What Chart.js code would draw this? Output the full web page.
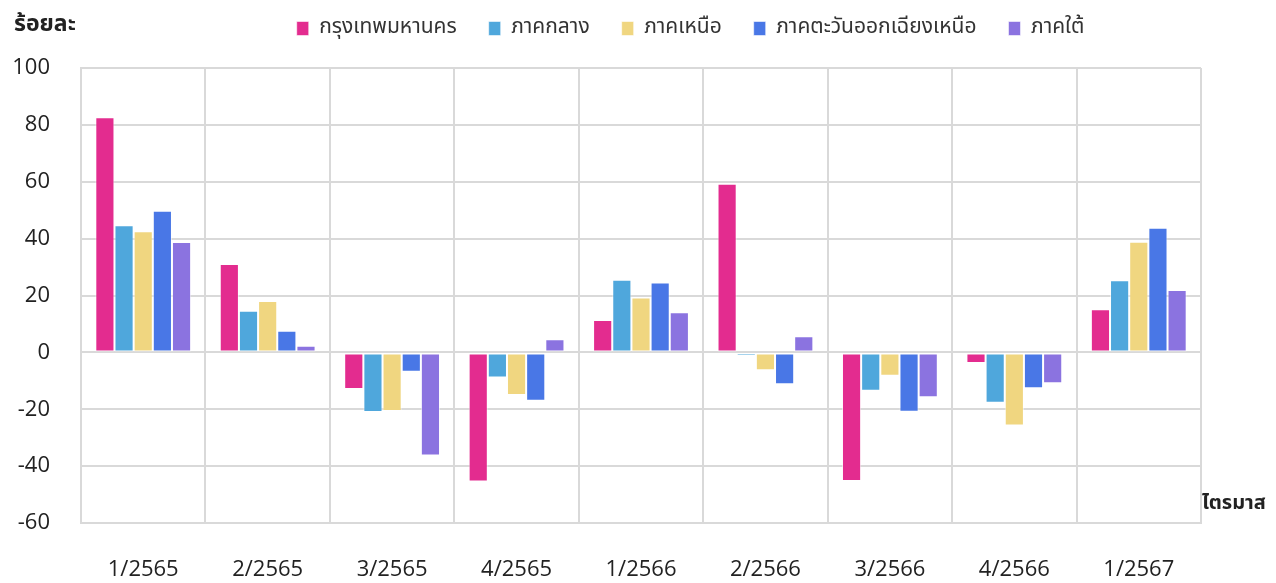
<!DOCTYPE html>
<html>
<head>
<meta charset="utf-8">
<script src="https://cdn.jsdelivr.net/npm/chart.js@4"></script>
<style>
  html, body { margin: 0; padding: 0; background: #fff; }
  #wrap { width: 1276px; height: 583px; }
</style>
</head>
<body>
<div id="wrap"><canvas id="regionChart"></canvas></div>
<script>
const quarters = ['1/2565', '2/2565', '3/2565', '4/2565', '1/2566', '2/2566', '3/2566', '4/2566', '1/2567'];

const bangkok   = [82.7, 31.1, -12.9, -45.4, 11.4, 59.3, -45.2, -3.7, 15.2];
const central   = [44.7, 14.6, -21.0, -8.8, 25.5, -1.3, -13.5, -17.7, 25.4];
const north     = [42.6, 18.1, -20.6, -15.0, 19.3, -6.3, -8.2, -25.7, 38.9];
const northeast = [49.8, 7.6, -6.8, -17.0, 24.6, -11.2, -20.9, -12.6, 43.8];
const south     = [38.8, 2.3, -36.3, 4.6, 14.1, 5.7, -15.8, -10.9, 21.9];

const yTicks = [100, 80, 60, 40, 20, 0, -20, -40, -60];

const thaiFont = "'Noto Sans Thai', 'Noto Sans', 'Open Sans', sans-serif";
const numFont = "'Open Sans', 'Noto Sans', sans-serif";
const gridColor = '#d9d9d9';

function series(label, data, color) {
    return {
        label: label,
        data: data,
        backgroundColor: color,
        borderColor: 'rgba(255,255,255,0.55)',
        borderWidth: 1,
        borderSkipped: false,
        categoryPercentage: 0.77,
        barPercentage: 1.0
    };
}

// axis captions: unit on the top left, period label beside the x axis
const captions = {
    id: 'captions',
    afterDraw(chart) {
        const ctx = chart.ctx;
        ctx.save();
        ctx.fillStyle = '#222';
        ctx.textBaseline = 'middle';
        ctx.textAlign = 'left';
        ctx.font = 'bold 23px ' + thaiFont;
        ctx.fillText('ร้อยละ', 14, 26);
        ctx.font = 'bold 20px ' + thaiFont;
        ctx.fillText('ไตรมาส', chart.chartArea.right + 1, 505);
        ctx.restore();
    }
};

// keep the legend block 68px tall, lift it and nudge it right of centre
const legendPlace = {
    id: 'legendPlace',
    afterInit(chart) {
        const legend = chart.legend;
        const fit = legend.fit.bind(legend);
        legend.fit = function () {
            fit();
            this.height = 68;
        };
    },
    afterLayout(chart) {
        const legend = chart.legend;
        legend.left += 90;
        legend.right += 90;
        legend.top -= 14;
        legend.bottom -= 14;
    }
};

new Chart(document.getElementById('regionChart'), {
    type: 'bar',
    data: {
        labels: quarters,
        datasets: [
            series('กรุงเทพมหานคร', bangkok, '#e32c8f'),
            series('ภาคกลาง', central, '#4fa7dc'),
            series('ภาคเหนือ', north, '#f0d680'),
            series('ภาคตะวันออกเฉียงเหนือ', northeast, '#4977e6'),
            series('ภาคใต้', south, '#8b73e0')
        ]
    },
    options: {
        responsive: true,
        maintainAspectRatio: false,
        animation: false,
        layout: { padding: { left: 0, right: 75, top: 0, bottom: 0 } },
        plugins: {
            legend: {
                position: 'top',
                labels: {
                    boxWidth: 12,
                    boxHeight: 14,
                    padding: 32,
                    color: '#333',
                    font: { family: thaiFont, size: 21 }
                }
            },
            tooltip: { enabled: false },
            title: { display: false }
        },
        scales: {
            x: {
                grid: { color: gridColor, lineWidth: 2, offset: true, drawTicks: false },
                border: { color: gridColor, width: 2 },
                ticks: {
                    color: '#222',
                    padding: 34,
                    font: { family: numFont, size: 22 }
                },
                afterFit(scale) { scale.height = 60; }
            },
            y: {
                min: -60,
                max: 100,
                grid: { color: gridColor, lineWidth: 2, drawTicks: false },
                border: { color: gridColor, width: 2 },
                afterBuildTicks(scale) {
                    scale.ticks = yTicks.map(v => ({ value: v }));
                },
                ticks: {
                    color: '#222',
                    padding: 31,
                    font: { family: numFont, size: 22 }
                },
                afterFit(scale) { scale.width = 81; }
            }
        }
    },
    plugins: [captions, legendPlace]
});
</script>
</body>
</html>
